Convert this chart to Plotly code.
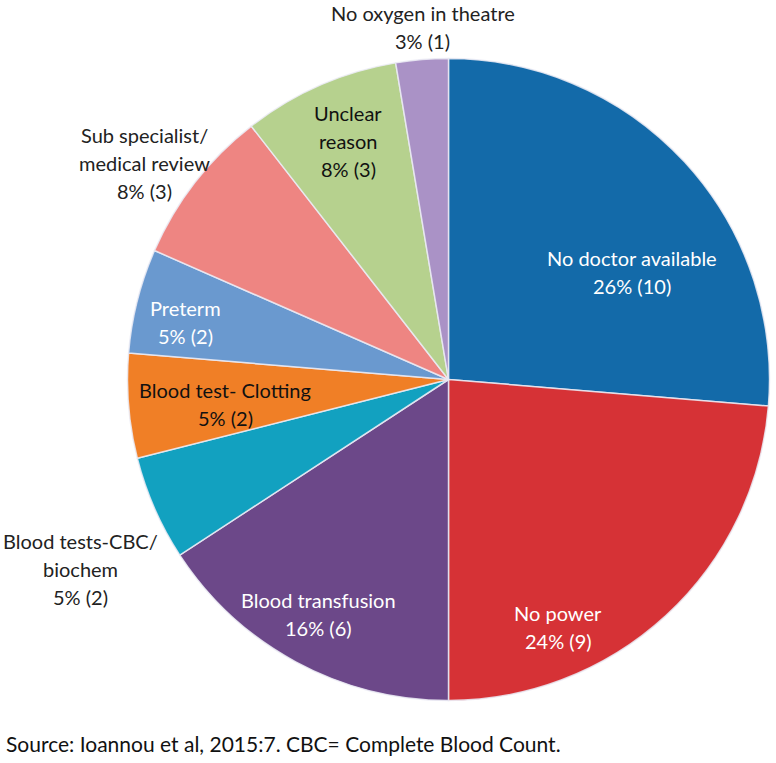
import plotly.graph_objects as go

categories = ["No doctor available", "No power", "Blood transfusion",
              "Blood tests-CBC/<br>biochem", "Blood test- Clotting", "Preterm",
              "Sub specialist/<br>medical review", "Unclear<br>reason", "No oxygen in theatre"]
counts = [10, 9, 6, 2, 2, 2, 3, 3, 1]
colors = ["#136aa9", "#d63236", "#6c4889", "#12a1c0", "#f07f26",
          "#6a99cf", "#ee8582", "#b6d18e", "#aa92c6"]
text_colors = ["white", "white", "white", "#222222", "#111111", "white",
               "#222222", "#111111", "#222222"]
# label anchor (pixel centres of first line)
label_px = [(632, 258), (558, 613), (318, 600), (80, 541), (225, 390),
            (185, 308), (144, 135), (348, 113), (423, 13)]

W, H = 776, 763
total = sum(counts)

fig = go.Figure()
cx, cy, r = 448.5, 379.5, 321
fig.add_trace(go.Pie(
    values=counts, labels=[c.replace("<br>", " ") for c in categories],
    sort=False, direction="clockwise", rotation=0,
    marker=dict(colors=colors, line=dict(color="rgba(235,235,245,0.85)", width=1.5)),
    textinfo="none", hoverinfo="label+value+percent", showlegend=False,
    domain=dict(x=[(cx - r) / W, (cx + r) / W], y=[(H - cy - r) / H, (H - cy + r) / H]),
))

font_family = "Lato, 'Open Sans', sans-serif"
for cat, n, (px, py), tc in zip(categories, counts, label_px, text_colors):
    lines = cat.split("<br>") + [f"{round(100 * n / total)}% ({n})"]
    for i, line in enumerate(lines):
        fig.add_annotation(
            x=px / W, y=1 - (py + 28 * i) / H, xref="paper", yref="paper",
            text=line, showarrow=False, xanchor="center", yanchor="middle",
            font=dict(family=font_family, size=20, color=tc),
        )

fig.add_annotation(
    x=4 / W, y=1 - 743 / H, xref="paper", yref="paper",
    text="Source: Ioannou et al, 2015:7. CBC= Complete Blood Count.",
    showarrow=False, xanchor="left", yanchor="middle",
    font=dict(family=font_family, size=21, color="#111111"),
)

fig.update_layout(
    width=W, height=H, margin=dict(l=0, r=0, t=0, b=0),
    paper_bgcolor="white", plot_bgcolor="white",
)
fig.write_html("out.html", config={"displayModeBar": False},
               post_script="document.body.style.margin='0';")
